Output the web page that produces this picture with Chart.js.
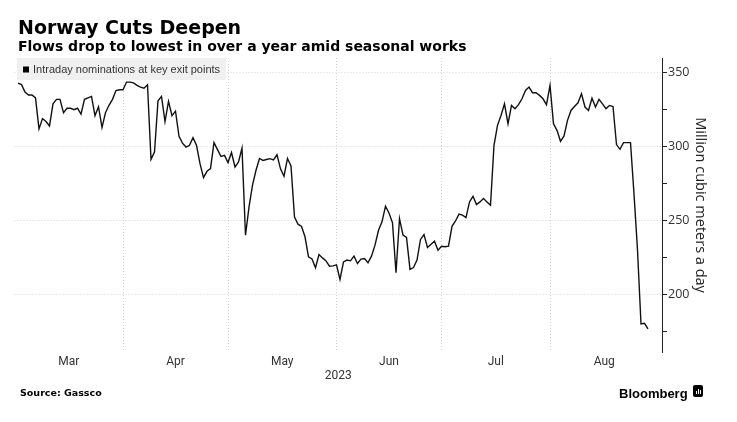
<!DOCTYPE html>
<html><head><meta charset="utf-8">
<script src="https://cdn.jsdelivr.net/npm/chart.js@4.4.0/dist/chart.umd.min.js"></script>
<style>
html,body{margin:0;padding:0;background:#fff;width:737px;height:422px;overflow:hidden;position:relative}
#wrap{position:absolute;left:0;top:0;width:737px;height:422px}
.t{position:absolute;white-space:nowrap;line-height:1;color:#000}
#logo{position:absolute;left:693px;top:385px;width:10px;height:12px;background:#000;border-radius:2px}
#logo i{position:absolute;bottom:3px;width:1.5px;background:#fff}
</style></head><body>
<div id="wrap"><canvas id="c" width="737" height="422"></canvas></div>
<div class="t" style="left:18px;top:15.6px;font:bold 19px 'DejaVu Sans'">Norway Cuts Deepen</div>
<div class="t" style="left:18px;top:37.6px;font:bold 14px 'DejaVu Sans'">Flows drop to lowest in over a year amid seasonal works</div>
<div class="t" style="left:20px;top:387px;font:bold 9.5px 'DejaVu Sans'">Source: Gassco</div>
<div class="t" style="left:619px;top:386px;font:bold 13px 'Liberation Sans'">Bloomberg</div>
<div id="logo"><i style="left:2.5px;height:3px"></i><i style="left:4.5px;height:5px"></i><i style="left:6.5px;height:4px"></i></div>
<script>
// ---- data ----
const startDate = '2023-03-02';           // first daily observation
const axisStart = '2023-03-01';
const axisEnd = '2023-09-02';
const monthStarts = ['2023-03-01','2023-04-01','2023-05-01','2023-06-01','2023-07-01','2023-08-01','2023-09-01'];
const monthLabels = ['Mar','Apr','May','Jun','Jul','Aug'];
const yearLabel = '2023';
const yTickValues = [175,200,225,250,275,300,325,350];
const yLabelValues = [200,250,300,350];
const seriesLabel = 'Intraday nominations at key exit points';
const yAxisTitle = 'Million cubic meters a day';
const flows = [
  343, 342, 337, 335, 335, 333, 312, 319, 317, 314,
  329, 332, 332, 323, 326, 326, 325, 326, 322, 332,
  333, 334, 321, 327, 313, 323, 328, 332, 338, 338.5,
  338.5, 343.7, 343.7, 343.2, 341.5, 340.3, 339.6, 341.9, 291.4, 296.4,
  331, 334, 317, 330.6, 321, 324, 307, 302.4, 299.7, 300.9,
  306, 300.9, 288.5, 279, 283.3, 285.1, 302.7, 298, 293.4, 294.1,
  289.2, 296, 286.2, 289.6, 299, 240, 259, 274, 284, 292,
  290.7, 291.3, 291.9, 291, 294.5, 285, 280, 292, 287, 252.4,
  247.5, 246, 239, 225.4, 224, 218, 227, 224.7, 222.7, 219.1,
  219.3, 220, 210.1, 222, 223.2, 222.7, 225.9, 220.9, 223.9, 224.3,
  221.4, 225.9, 233.3, 243.4, 249.1, 259.7, 255.1, 248.4, 214.6, 251.3,
  240.1, 238.5, 216.9, 218.2, 223.2, 237.2, 240.5, 231.8, 234, 236,
  229.9, 232.6, 232.2, 232.6, 246.1, 249.7, 254.3, 253.6, 252, 262.6,
  266.4, 260.8, 262.6, 264.9, 262.6, 260.3, 300.9, 314.4, 321.1, 329,
  315.5, 327.9, 325.7, 328.4, 332.4, 338, 340.3, 336.5, 336.5, 334.7,
  332.4, 328.4, 341.4, 315.5, 311, 303.6, 307.2, 317.8, 324.5, 327.2,
  329.7, 335.8, 326.8, 324.5, 332.8, 326.8, 332, 329, 325.7, 327.9,
  327.2, 301.4, 298.2, 302.7, 302.7, 302.7, 268, 230, 180, 180.4,
  176.6
];
const yMin = 161, yMax = 360;

// ---- helpers ----
function dayIndex(iso){
  const [y,m,d] = iso.split('-').map(Number);
  const [y0,m0,d0] = axisStart.split('-').map(Number);
  return Math.round((Date.UTC(y,m-1,d) - Date.UTC(y0,m0-1,d0)) / 86400000);
}
const firstDay = dayIndex(startDate);
const points = flows.map((v,i) => ({x: firstDay + i, y: v}));
const gridDays = monthStarts.slice(1, monthStarts.length - 1).map(dayIndex);
const labelDays = monthLabels.map((_,i) => (dayIndex(monthStarts[i]) + dayIndex(monthStarts[i+1])) / 2);

const legendBox = {
  id: 'legendBox',
  afterDatasetsDraw(chart){
    const {ctx, chartArea} = chart;
    const label = chart.data.datasets[0].label;
    ctx.save();
    ctx.font = "11px 'Liberation Sans'";
    const tw = ctx.measureText(label).width;
    const x = chartArea.left + 2.5, y = chartArea.top;
    ctx.fillStyle = '#f0f0f0';
    ctx.fillRect(x, y, tw + 22, 22);
    ctx.fillStyle = '#000';
    ctx.fillRect(x + 6, y + 8.5, 6, 6);
    ctx.fillStyle = '#333';
    ctx.textBaseline = 'middle';
    ctx.fillText(label, x + 16, y + 12);
    ctx.restore();
  }
};

new Chart(document.getElementById('c'), {
  type: 'line',
  data: {
    datasets: [{
      label: seriesLabel,
      data: points,
      borderColor: '#111',
      borderWidth: 1.4,
      pointRadius: 0,
      tension: 0,
      fill: false,
      xAxisID: 'x',
      yAxisID: 'y'
    }]
  },
  options: {
    responsive: false,
    animation: false,
    devicePixelRatio: 1,
    layout: { padding: { left: 14.5, right: 0, top: 58, bottom: 37 } },
    plugins: { legend: { display: false }, tooltip: { enabled: false } },
    scales: {
      xg: {
        type: 'linear', position: 'bottom',
        min: dayIndex(axisStart), max: dayIndex(axisEnd),
        afterBuildTicks: s => { s.ticks = gridDays.map(v => ({value: v})); },
        afterFit: s => { s.height = 0; },
        ticks: { display: false },
        grid: { color: '#d4d4d4', lineWidth: 1, drawTicks: false },
        border: { display: false, dash: [1, 2] }
      },
      x: {
        type: 'linear', position: 'bottom',
        min: dayIndex(axisStart), max: dayIndex(axisEnd),
        afterBuildTicks: s => { s.ticks = labelDays.map(v => ({value: v})); },
        afterFit: s => { s.height = 33; },
        ticks: {
          autoSkip: false, maxRotation: 0, padding: 3,
          color: '#333', font: { family: 'Roboto', size: 12 },
          callback: (v, i) => monthLabels[i]
        },
        grid: { display: false, drawTicks: false },
        border: { display: false },
        title: { display: true, text: yearLabel, color: '#333', font: { family: 'Roboto', size: 12 }, padding: { top: 0, bottom: 2 } }
      },
      y: {
        type: 'linear', position: 'right',
        min: yMin, max: yMax,
        afterBuildTicks: s => { s.ticks = yTickValues.map(v => ({value: v})); },
        afterFit: s => { s.width = 75; },
        ticks: {
          padding: 1, color: '#333', font: { family: 'Open Sans', size: 12.5 },
          callback: v => yLabelValues.includes(v) ? String(v) : ''
        },
        grid: {
          color: c => (c.tick && yLabelValues.includes(c.tick.value)) ? '#d4d4d4' : 'rgba(0,0,0,0)',
          tickColor: '#222', tickLength: 5, lineWidth: 1
        },
        border: { display: true, color: '#222', width: 1, dash: [1, 2] },
        title: { display: true, text: yAxisTitle, color: '#222', font: { family: 'Open Sans', size: 14.5 }, padding: { top: 28, bottom: 0 } }
      }
    }
  },
  plugins: [legendBox]
});
</script>
</body></html>
